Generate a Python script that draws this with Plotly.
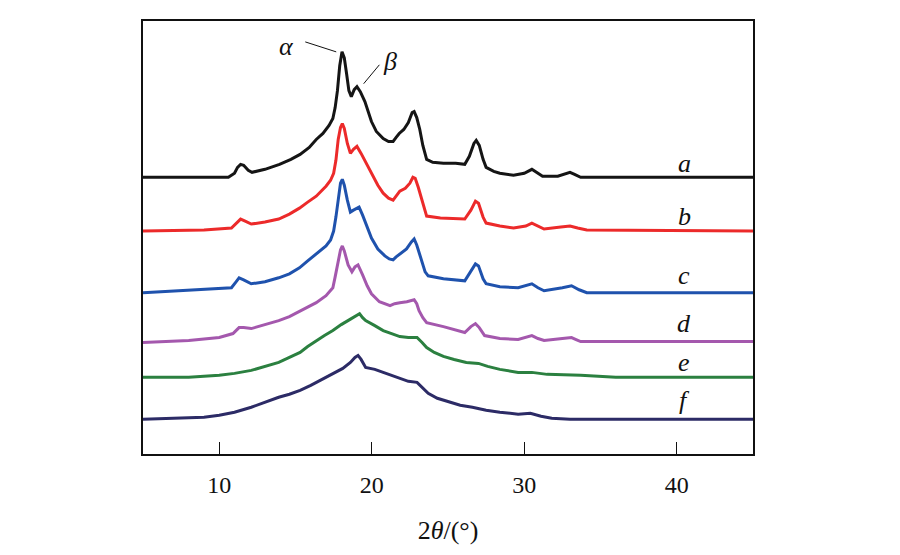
import plotly.graph_objects as go

# 2theta positions and stacked intensities (a.u.)
a_x = [5.0, 10.6, 11.0, 11.2, 11.4, 11.6, 11.9, 12.15, 13.0, 13.95, 14.7, 15.3, 15.9, 16.36, 16.8,
       17.2, 17.45, 17.6, 17.75, 17.9, 18.05, 18.2, 18.35, 18.5, 18.66, 18.85, 19.03, 19.25, 19.55,
       19.98, 20.3, 20.75, 21.1, 21.4, 21.6, 21.8, 22.1, 22.4, 22.65, 22.78, 22.95, 23.15, 23.35,
       23.6, 24.0, 24.7, 25.5, 26.1, 26.4, 26.7, 26.85, 27.05, 27.3, 27.5, 28.0, 28.4, 29.3, 30.0,
       30.5, 30.8, 31.2, 32.2, 32.7, 33.0, 33.3, 33.7, 45.0]
a_y = [278, 278, 282, 288, 291, 290, 285, 283, 286, 291, 296, 301, 308, 316, 322,
       330, 337, 348, 365, 390, 404, 398, 382, 365, 359, 366, 369, 364, 354,
       334, 324, 317, 314, 314, 318, 322, 326, 333, 343, 344, 338, 326, 310,
       296, 293, 292, 292, 291, 299, 312, 315, 310, 296, 288, 284, 282, 280, 282,
       286, 283, 279, 279, 282, 283, 281, 278, 278]

b_x = [5.0, 9.0, 10.8, 11.1, 11.4, 11.7, 12.1, 13.0, 13.9, 14.6, 15.26, 15.8, 16.36, 17.0, 17.3,
       17.5, 17.65, 17.8, 17.95, 18.07, 18.2, 18.4, 18.6, 18.8, 19.03, 19.3, 19.6, 19.98, 20.4,
       20.75, 21.1, 21.4, 21.6, 21.84, 22.2, 22.5, 22.7, 22.85, 23.05, 23.26, 23.45, 23.6, 24.5,
       26.1, 26.5, 26.8, 27.0, 27.3, 27.5, 28.4, 29.3, 30.1, 30.5, 30.9, 31.3, 32.4, 33.0, 33.5,
       34.1, 45.0]
b_y = [224, 225, 227, 232, 236, 234, 231, 233, 236, 241, 247, 253, 259, 269, 275,
       282, 295, 316, 328, 332, 327, 312, 302, 306, 309, 302, 293, 281, 270,
       262, 257, 255, 259, 264, 267, 272, 278, 277, 268, 257, 245, 239, 237,
       236, 245, 254, 252, 238, 232, 229, 227, 229, 232, 229, 226, 228, 229, 227,
       225, 224]

c_x = [5.0, 10.0, 10.8, 11.1, 11.3, 11.6, 12.1, 13.0, 13.9, 14.6, 15.26, 15.8, 16.36, 17.0, 17.3,
       17.5, 17.65, 17.8, 17.95, 18.07, 18.2, 18.4, 18.6, 18.8, 19.17, 19.4, 19.7, 19.98, 20.4,
       20.86, 21.15, 21.4, 21.6, 21.84, 22.28, 22.6, 22.78, 22.95, 23.26, 23.5, 23.7, 24.7, 26.1,
       26.5, 26.8, 27.0, 27.3, 27.5, 28.4, 29.6, 30.1, 30.5, 30.9, 31.3, 32.5, 33.1, 33.6, 34.1,
       45.0]
c_y = [162, 166, 167, 173, 177, 175, 171, 173, 177, 181, 187, 194, 201, 209, 215,
       224, 238, 258, 272, 276, 270, 255, 243, 245, 248, 240, 228, 217, 206,
       199, 196, 195, 198, 201, 206, 213, 216, 210, 194, 183, 179, 176, 174,
       183, 191, 189, 176, 171, 168, 167, 169, 171, 167, 164, 167, 169, 165, 162,
       162]

d_x = [5.0, 8.0, 10.0, 10.9, 11.3, 11.6, 12.1, 13.0, 13.9, 14.6, 15.26, 15.8, 16.36, 17.0, 17.45,
       17.6, 17.76, 17.95, 18.07, 18.2, 18.45, 18.7, 18.9, 19.1, 19.4, 19.7, 19.98, 20.5, 21.2,
       21.5, 21.84, 22.3, 22.78, 22.95, 23.1, 23.35, 23.6, 24.7, 26.1, 26.5, 26.8, 27.05, 27.4,
       28.4, 29.6, 30.1, 30.5, 30.9, 31.3, 32.5, 33.1, 33.4, 33.7, 45.0]
d_y = [112, 114, 117, 121, 127, 127, 126, 130, 134, 138, 143, 147, 152, 159, 167,
       178, 191, 205, 209, 204, 190, 183, 188, 190, 180, 169, 161, 153, 149,
       151, 152, 153, 155, 151, 144, 137, 132, 128, 122, 128, 131, 127, 119,
       116, 115, 117, 119, 116, 114, 116, 117, 115, 113, 113]

e_x = [5.0, 8.0, 10.0, 11.0, 12.1, 13.0, 13.9, 14.6, 15.3, 15.8, 16.36, 16.9, 17.45, 18.0, 18.55,
       18.9, 19.2, 19.4, 19.6, 20.2, 20.75, 21.3, 21.84, 22.4, 22.97, 23.3, 23.6, 24.1, 24.7,
       25.4, 26.2, 27.0, 27.6, 28.4, 29.6, 30.5, 31.5, 33.7, 36.0, 45.0]
e_y = [77, 77, 79, 81, 84, 88, 92, 97, 102, 108, 114, 119, 124, 130, 135,
       138, 141, 137, 134, 129, 124, 121, 118, 117, 117, 112, 107, 102, 98,
       95, 92, 91, 88, 85, 82, 82, 80, 79, 77, 77]

f_x = [5.0, 8.0, 9.0, 10.0, 11.0, 12.1, 13.0, 13.9, 14.6, 15.3, 16.0, 16.6, 17.4, 18.1, 18.6,
       18.9, 19.1, 19.3, 19.6, 20.2, 20.75, 21.3, 21.84, 22.4, 22.97, 23.3, 23.7, 24.3, 25.1,
       25.8, 26.6, 27.5, 28.4, 29.6, 30.4, 31.1, 31.8, 33.0, 45.0]
f_y = [35, 36, 37, 39, 42, 47, 52, 57, 60, 64, 69, 74, 80, 86, 92,
       97, 99, 95, 87, 85, 82, 79, 76, 73, 72, 67, 61, 56, 52,
       49, 47, 44, 42, 40, 41, 38, 36, 35, 35]

series = [
    ('a', a_x, a_y, '#151515', 292),
    ('b', b_x, b_y, '#ec2a2a', 239),
    ('c', c_x, c_y, '#1f52ad', 179),
    ('d', d_x, d_y, '#a458ad', 131),
    ('e', e_x, e_y, '#2b8040', 92),
    ('f', f_x, f_y, '#2c2b66', 54),
]
label_x = 40.5
serif = 'Times New Roman, Liberation Serif, serif'

fig = go.Figure()
for name, xs, ys, col, ly in series:
    fig.add_trace(go.Scatter(x=xs, y=ys, mode='lines', name=name,
                             line=dict(color=col, width=3), showlegend=False))
    fig.add_annotation(x=label_x, y=ly, text='<i>' + name + '</i>', showarrow=False,
                       font=dict(family=serif, size=26, color='#111'))

# alpha / beta marks
fig.add_shape(type='line', x0=15.64, y0=414, x1=17.67, y1=404, line=dict(color='#111', width=1))
fig.add_shape(type='line', x0=20.5, y0=391, x1=19.47, y1=372, line=dict(color='#111', width=1))
fig.add_annotation(x=14.4, y=409, text='<i>α</i>', showarrow=False,
                   font=dict(family=serif, size=26, color='#111'))
fig.add_annotation(x=21.2, y=394, text='<i>β</i>', showarrow=False,
                   font=dict(family=serif, size=26, color='#111'))

fig.update_xaxes(range=[5, 45], tickvals=[10, 20, 30, 40], ticks='inside', ticklen=12,
                 tickwidth=1.2, tickcolor='#111', showline=True, linecolor='#111', linewidth=1.5,
                 mirror=True, showgrid=False, zeroline=False, ticklabelstandoff=8,
                 tickfont=dict(family=serif, size=24, color='#111'),
                 title=dict(text='2<i>θ</i>/(°)', standoff=24,
                            font=dict(family=serif, size=26, color='#111')))
fig.update_yaxes(range=[0, 435], showticklabels=False, ticks='', showline=True,
                 linecolor='#111', linewidth=1.5, mirror=True, showgrid=False, zeroline=False)
fig.update_layout(width=900, height=555, plot_bgcolor='white', paper_bgcolor='white',
                  margin=dict(l=135, r=155, t=11, b=109))

fig.write_html("out.html")
